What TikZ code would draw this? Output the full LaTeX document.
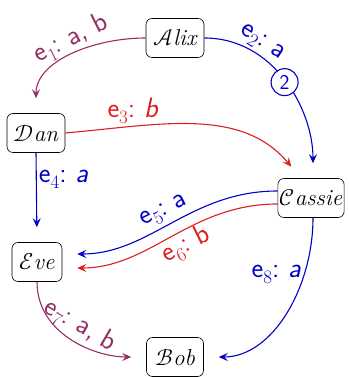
\documentclass[tikz,border=0pt]{standalone}
\usepackage{fontspec}
\usetikzlibrary{arrows.meta}
\IfFontExistsTF{Latin Modern Math}{\newfontfamily\scrf{Latin Modern Math}}{\newcommand{\scrf}{\itshape}}
\newcommand{\sch}[2]{\iffontchar\font"#1\relax\char"#1\relax\else{\rmfamily\itshape #2}\fi}
\definecolor{cpur}{RGB}{150,45,100}
\definecolor{cblu}{RGB}{0,0,200}
\definecolor{cred}{RGB}{220,30,30}
\newcommand{\elab}[2]{\textsf{e}\raisebox{-0.22em}{\fontsize{19}{19}\selectfont\rmfamily #1}\textsf{:\ #2}}
\tikzset{
  person/.style={draw, rounded corners=6pt, minimum height=39pt, inner xsep=2pt, font=\fontsize{23}{25}\selectfont\scrf, line width=0.6pt},
  edge/.style={line width=1.1pt, -{Stealth[length=9pt,width=8pt,inset=3.5pt]}, shorten >=15pt},
  lab/.style={font=\fontsize{28}{30}\selectfont\sffamily, inner sep=2pt},
  circ/.style={circle, draw=cblu, fill=white, line width=1.1pt, inner sep=1pt, minimum size=27pt, text=cblu, font=\fontsize{21}{22}\selectfont\sffamily}
}
\begin{document}
\begin{tikzpicture}[x=1pt,y=1pt]
\useasboundingbox (0,0) rectangle (348,377);
\node[person, minimum width=58pt] (alix) at (175,339) {\sch{1D49C}{A}\sch{1D4C1}{l}\sch{1D4BE}{i}\sch{1D4CD}{x}};
\node[person, minimum width=58pt] (dan) at (36,244) {\sch{1D49F}{D}\sch{1D4B6}{a}\sch{1D4C3}{n}};
\node[person, minimum width=63pt] (cassie) at (311,179) {\sch{1D49E}{C}\sch{1D4B6}{a}\sch{1D4C8}{s}\sch{1D4C8}{s}\sch{1D4BE}{i}\sch{212F}{e}};
\node[person, minimum width=50pt] (eve) at (37,115) {\sch{2130}{E}\sch{1D4CB}{v}\sch{212F}{e}};
\node[person, minimum width=57pt] (bob) at (175,20) {\sch{212C}{B}\sch{2134}{o}\sch{1D4B7}{b}};

\draw[edge, cpur] (alix.west) to[out=180,in=90]
  node[lab, sloped, above, pos=0.45] {\elab{1}{a, b}} (dan.north);
\draw[edge, cblu] (alix.east) to[out=0,in=90]
  node[lab, sloped, above, pos=0.28] {\elab{2}{a}}
  node[circ, pos=0.5] {2} ([xshift=2pt]cassie.north);
\draw[edge, cred] (dan.east) to[out=5,in=130]
  node[lab, above, pos=0.25] {\elab{3}{\itshape b}} ([xshift=-10pt]cassie.north);
\draw[edge, cblu] (dan.south) -- node[lab, right, pos=0.3] {\elab{4}{\itshape a}} (eve.north);
\draw[edge, cblu] ([yshift=7pt]cassie.west) to[out=180,in=0]
  node[lab, sloped, above, pos=0.5] {\elab{5}{a}} ([yshift=8pt]eve.east);
\draw[edge, cred] ([yshift=-6pt]cassie.west) to[out=180,in=0]
  node[lab, sloped, below, pos=0.45] {\elab{6}{b}} ([yshift=-6pt]eve.east);
\draw[edge, cpur] (eve.south) to[out=-90,in=180]
  node[lab, sloped, above, pos=0.5] {\elab{7}{a, b}} (bob.west);
\draw[edge, cblu] ([xshift=2pt]cassie.south) to[out=-90,in=0]
  node[lab, left, pos=0.28] {\elab{8}{\itshape a}} (bob.east);
\end{tikzpicture}
\end{document}
